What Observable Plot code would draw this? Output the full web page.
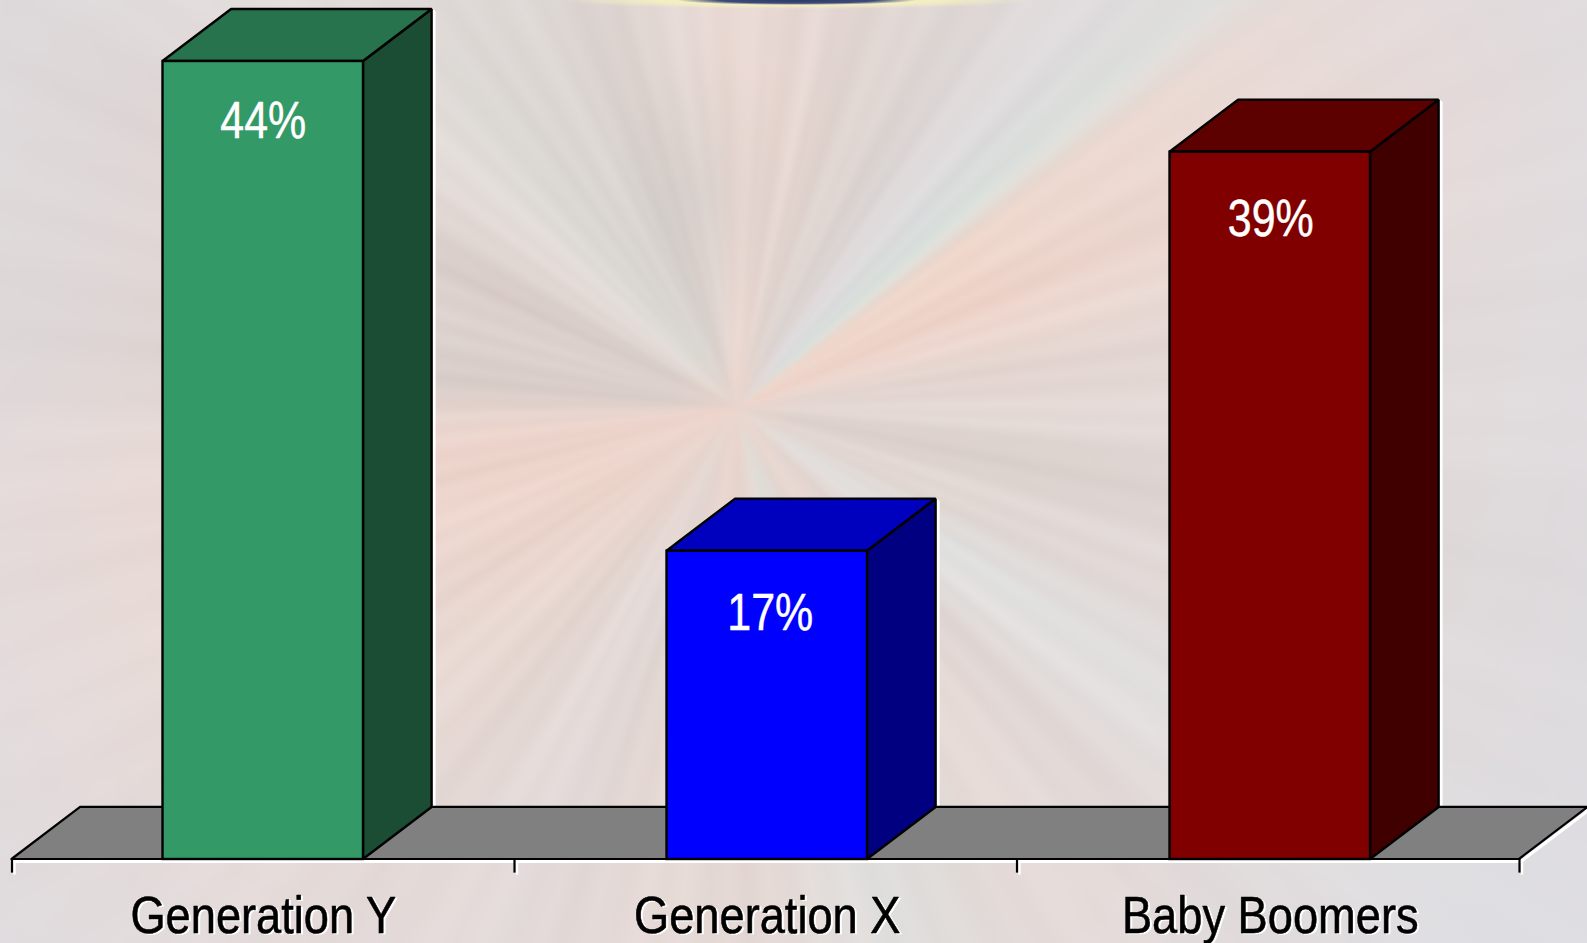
<!DOCTYPE html>
<html><head><meta charset="utf-8">
<script src="https://cdn.jsdelivr.net/npm/d3@7"></script>
<script src="https://cdn.jsdelivr.net/npm/@observablehq/plot@0.6"></script>
<style>
html,body{margin:0;padding:0;width:1587px;height:943px;overflow:hidden;background:#e2dcdd}
#bg{position:absolute;left:-20px;top:-20px;width:1627px;height:983px;filter:blur(2.5px);
background:
 radial-gradient(circle 70px at 757px 428px,rgba(238,212,202,.55),rgba(238,212,202,0) 100%),
 radial-gradient(ellipse 90px 150px at 722px 215px,rgba(192,194,192,.32),rgba(192,194,192,0) 100%),
 radial-gradient(ellipse 420px 110px at 640px 500px,rgba(240,205,190,.22),rgba(240,205,190,0) 100%),
 radial-gradient(circle 900px at 757px 428px,rgba(228,220,220,0) 30%,rgba(228,221,221,.5) 65%,rgba(222,221,226,.82) 100%),
 repeating-conic-gradient(from 2deg at 757px 428px,rgba(255,255,255,.07) 0deg,rgba(120,100,95,.035) 2.3deg,rgba(255,255,255,.05) 4.1deg,rgba(120,100,95,.03) 6.7deg,rgba(255,255,255,.07) 9.7deg),
 conic-gradient(from 0deg at 757px 428px,rgba(255,255,255,0) 0deg,rgba(255,255,255,.08) 3deg,rgba(120,110,100,.04) 7deg,rgba(255,255,255,.07) 12deg,rgba(120,110,100,.05) 16deg,rgba(255,255,255,.06) 24deg,rgba(120,110,100,.04) 31deg,rgba(255,255,255,.07) 38deg,rgba(120,110,100,.03) 44deg,rgba(255,255,255,.06) 58deg,rgba(120,110,100,.03) 66deg,rgba(255,255,255,.07) 74deg,rgba(120,110,100,.05) 81deg,rgba(255,255,255,.04) 93deg,rgba(120,110,100,.05) 99deg,rgba(255,255,255,.08) 108deg,rgba(120,110,100,.04) 115deg,rgba(255,255,255,.07) 128deg,rgba(120,110,100,.05) 136deg,rgba(255,255,255,.08) 145deg,rgba(120,110,100,.03) 153deg,rgba(255,255,255,.08) 169deg,rgba(120,110,100,.05) 178deg,rgba(255,255,255,.07) 190deg,rgba(120,110,100,.04) 197deg,rgba(255,255,255,.08) 209deg,rgba(120,110,100,.05) 216deg,rgba(255,255,255,.06) 228deg,rgba(120,110,100,.04) 237deg,rgba(255,255,255,.07) 249deg,rgba(120,110,100,.04) 256deg,rgba(255,255,255,.06) 268deg,rgba(120,110,100,.05) 274deg,rgba(255,255,255,.07) 289deg,rgba(120,110,100,.05) 297deg,rgba(255,255,255,.08) 311deg,rgba(120,110,100,.04) 322deg,rgba(255,255,255,.06) 333deg,rgba(120,110,100,.06) 342deg,rgba(255,255,255,.07) 351deg,rgba(255,255,255,0) 360deg),
 conic-gradient(from 0deg at 757px 428px,#ecd8d1 0deg,#ead7d1 8deg,#e2d6d1 20deg,#dcd5d2 29deg,#e0dadb 36deg,#dddee0 43deg,#dbe4df 49deg,#f0d6ca 54deg,#f1d5ca 68deg,#e9dad5 82deg,#e5dad6 92deg,#dcd2ce 103deg,#e4dbd8 114deg,#e0e2e1 124deg,#e5dad7 136deg,#e8d9d3 148deg,#dbe0dd 163deg,#e9dad4 176deg,#e8d8d2 190deg,#e3dad8 203deg,#ead9d2 222deg,#eed8cf 240deg,#f0d7cf 262deg,#dcd1cd 276deg,#dccfcb 295deg,#e4dbd7 307deg,#dfdcd7 319deg,#dad3cf 337deg,#e3d7d2 347deg,#ecd8d1 360deg);
}
#sliver{position:absolute;left:500px;top:0;width:620px;height:12px;
background:radial-gradient(ellipse 120px 5px at 297px 0,#2c3a68 0,#3b4a78 65%,rgba(60,70,120,0) 100%),radial-gradient(ellipse 240px 9px at 297px 0,#f6f1c0 0,rgba(246,241,192,.85) 60%,rgba(246,241,192,0) 100%)}
#chart{position:absolute;left:0;top:0}
svg{overflow:visible;display:block}
</style></head><body>
<div id="bg"></div><div id="sliver"></div><div id="chart"></div>
<script>
const categories = ["Generation Y", "Generation X", "Baby Boomers"];
const values = [44, 17, 39];
const valueLabels = ["44%", "17%", "39%"];
const labelHeights = [40.7, 13.56, 35.3];
const labelCenters = [0.5, 1.509, 2.505];
const barCenters = [0.5, 1.503, 2.504];
const frontColors = ["#339966", "#0000ff", "#800000"];
const topColors = ["#26734d", "#0000bf", "#5c0000"];
const sideColors = ["#1a4d33", "#000080", "#400000"];
const tickPositions = [0, 1, 2, 3];
const halfBar = 0.1995, depthX = 0.1365, depthY = 2.87, tickLen = -0.75;
const floorColor = "#808080", font = "'Liberation Sans','Arimo',Arial,sans-serif";

const bars = categories.map((c, i) => ({c, v: values[i], cx: barCenters[i], l: barCenters[i] - halfBar, r: barCenters[i] + halfBar,
  front: frontColors[i], top: topColors[i], side: sideColors[i], label: valueLabels[i], lx: labelCenters[i], ly: labelHeights[i]}));
const floor = [{y: 0, x1: 0, x2: 3}, {y: depthY, x1: depthX, x2: 3 + depthX}];

function barMarks(b, extra) {
  const p = extra || {};
  const topFace = [{y: b.v, x1: b.l, x2: b.r}, {y: b.v + depthY, x1: b.l + depthX, x2: b.r + depthX}];
  const sideFace = [{x: b.r, y1: 0, y2: b.v}, {x: b.r + depthX, y1: depthY, y2: b.v + depthY}];
  const st = {stroke: p.stroke || "#000", strokeWidth: p.strokeWidth || 2.4, strokeLinejoin: "miter", dx: p.dx || 0, dy: p.dy || 0};
  return [
    Plot.areaY(sideFace, {x: "x", y1: "y1", y2: "y2", fill: p.fill || b.side, ...st}),
    Plot.areaX(topFace, {y: "y", x1: "x1", x2: "x2", fill: p.fill || b.top, ...st}),
    Plot.rect([b], {x1: "l", x2: "r", y1: 0, y2: "v", fill: p.fill || b.front, ...st})
  ];
}
const halo = {stroke: "#fff", fill: "none", strokeWidth: 3, dx: 2.5, dy: 2};

const plot = Plot.plot({
  width: 1587, height: 943, margin: 0,
  x: {domain: [0, 3], range: [11.5, 1519], axis: null},
  y: {domain: [0, 44], range: [859, 61], axis: null},
  style: {background: "transparent", overflow: "visible"},
  marks: [
    ...bars.flatMap(b => barMarks(b, halo)),
    Plot.areaX(floor, {y: "y", x1: "x1", x2: "x2", fill: "none", stroke: "#fff", strokeWidth: 3, dx: 2, dy: 2.5}),
    Plot.ruleX(tickPositions, {y1: 0, y2: tickLen, stroke: "#fff", strokeWidth: 2.4, dx: 2.5, dy: 2}),
    Plot.areaX(floor, {y: "y", x1: "x1", x2: "x2", fill: floorColor, stroke: "#000", strokeWidth: 2.2}),
    Plot.ruleX(tickPositions, {y1: 0, y2: tickLen, stroke: "#000", strokeWidth: 2.2}),
    ...bars.flatMap(b => barMarks(b)),
    Plot.text(bars, {x: "cx", y: 0, text: "c", dy: 58, dx: 2, fill: "#fff", stroke: "#fff", strokeWidth: 0.6, fontFamily: font, fontSize: 52, className: "cat"}),
    Plot.text(bars, {x: "cx", y: 0, text: "c", dy: 56.5, fill: "#000", stroke: "#000", strokeWidth: 0.6, fontFamily: font, fontSize: 52, className: "cat"}),
    Plot.text(bars, {x: "lx", y: "ly", text: "label", fill: "#fff", stroke: "#fff", strokeWidth: 0.5, fontFamily: font, fontSize: 52, className: "val"})
  ]
});
// The reference uses a condensed face, which is not installed: narrow the real text horizontally.
d3.select(plot).selectAll(".cat text").attr("transform", function () { return this.getAttribute("transform") + " scale(0.87,1)"; });
d3.select(plot).selectAll(".val text").attr("transform", function () { return this.getAttribute("transform") + " scale(0.825,1)"; });
document.getElementById("chart").append(plot);
</script></body></html>
